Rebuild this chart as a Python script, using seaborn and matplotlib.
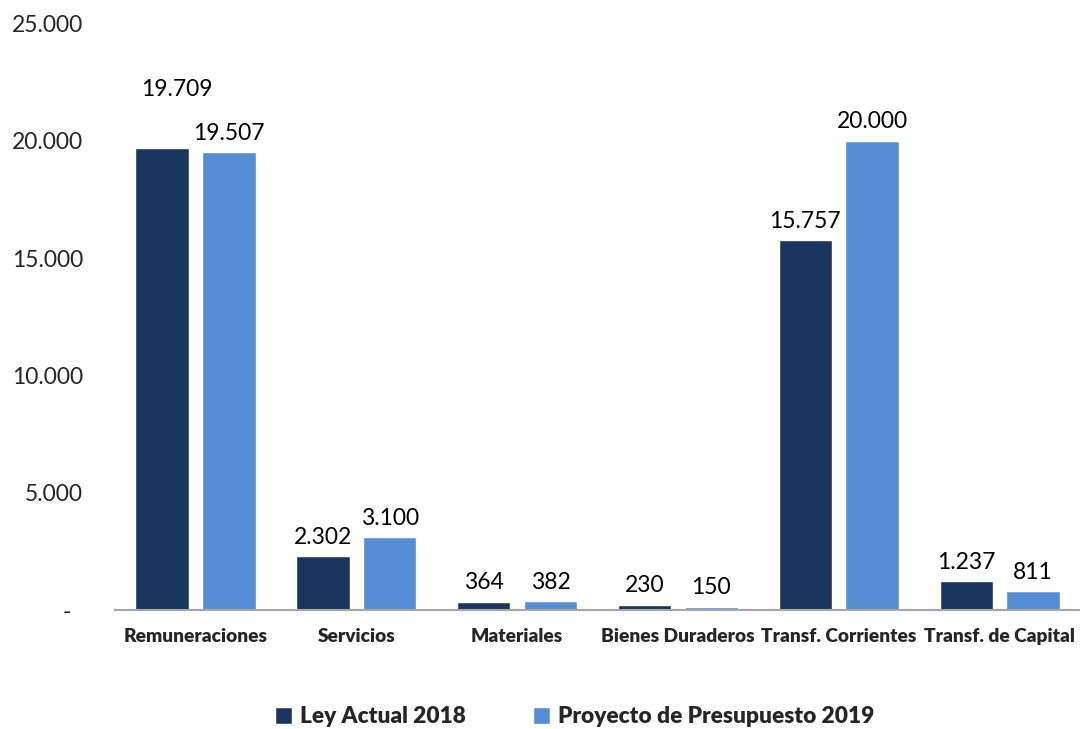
import pandas as pd
import seaborn as sns
import matplotlib.pyplot as plt
from matplotlib.ticker import FuncFormatter, MultipleLocator

sns.set_style("white")
plt.rcParams['font.family'] = ['Lato', 'DejaVu Sans']

# Data
categorias = ['Remuneraciones', 'Servicios', 'Materiales', 'Bienes Duraderos',
              'Transf. Corrientes', 'Transf. de Capital']
ley_2018 = [19709, 2302, 364, 230, 15757, 1237]
proyecto_2019 = [19507, 3100, 382, 150, 20000, 811]
series = ['Ley Actual 2018', 'Proyecto de Presupuesto 2019']
colores = ['#1B365E', '#558ED5']

df = pd.DataFrame({
    'Categoria': categorias * 2,
    'Serie': [series[0]] * len(categorias) + [series[1]] * len(categorias),
    'Monto': ley_2018 + proyecto_2019,
})


def miles(v):
    return f"{v:,.0f}".replace(',', '.')


fig = plt.figure(figsize=(10.8, 7.29), dpi=100)
ax = fig.add_axes([0.1065, 0.163, 0.8935, 0.805])

sns.barplot(data=df, x='Categoria', y='Monto', hue='Serie', palette=colores,
            width=0.83, gap=0.2, saturation=1, ax=ax, legend=True)

# value labels (first one moved up/right like in the original)
extra = {(0, 0): (11, 28)}
for i, cont in enumerate(ax.containers):
    for j, bar in enumerate(cont):
        h = bar.get_height()
        dx, dy = extra.get((i, j), (0, 0))
        ax.annotate(miles(h), (bar.get_x() + bar.get_width() / 2, h),
                    xytext=(dx, 6 + dy), textcoords='offset points',
                    ha='center', va='bottom', fontsize=16.5, color='black')

ax.set_ylim(0, 25000)
ax.set_xlim(-0.5, 5.5)
ax.yaxis.set_major_locator(MultipleLocator(5000))
ax.yaxis.set_major_formatter(FuncFormatter(lambda v, p: '-  ' if v == 0 else miles(v)))
ax.tick_params(axis='y', labelsize=16.5, length=0, pad=23)
ax.tick_params(axis='x', labelsize=13.8, length=0, pad=13)
for lab in ax.get_xticklabels():
    lab.set_fontweight('heavy')
ax.set_xlabel('')
ax.set_ylabel('')

for s in ['top', 'right', 'left']:
    ax.spines[s].set_visible(False)
ax.spines['bottom'].set_color('#A6A6A6')
ax.spines['bottom'].set_linewidth(1.5)

handles, labels = ax.get_legend_handles_labels()
ax.get_legend().remove()
leg = fig.legend(handles, labels, loc='center', bbox_to_anchor=(0.532, 0.017),
                 ncol=2, frameon=False, handlelength=0.75, handleheight=0.75,
                 handletextpad=0.35, columnspacing=3.0,
                 prop={'weight': 'heavy', 'size': 16.3})

fig.savefig('out.png', dpi=100)
